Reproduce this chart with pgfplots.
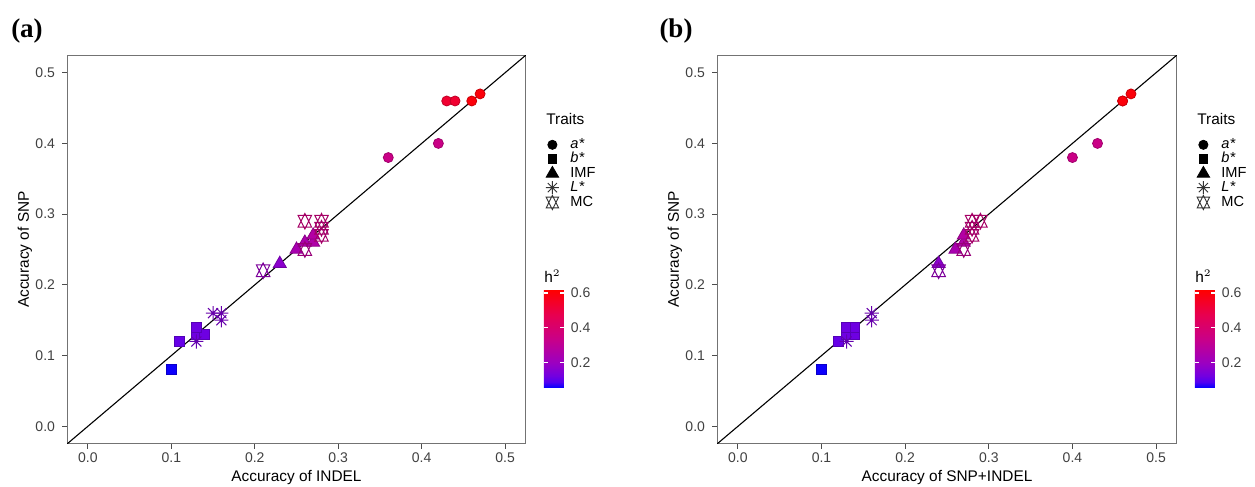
\documentclass[border=0pt]{standalone}
\usepackage{fontspec}
\setmainfont{Liberation Sans}
\newfontfamily\panelfont{Liberation Serif}
\usepackage{pgfplots}
\pgfplotsset{compat=1.18}

% ggplot-like point shapes (unit = mark size)
\pgfdeclareplotmark{ggsq}{%
  \pgfpathrectangle{\pgfqpoint{-0.886\pgfplotmarksize}{-0.886\pgfplotmarksize}}%
    {\pgfqpoint{1.772\pgfplotmarksize}{1.772\pgfplotmarksize}}%
  \pgfusepathqfillstroke}
\pgfdeclareplotmark{ggtri}{%
  \pgfpathmoveto{\pgfqpoint{0pt}{1.555\pgfplotmarksize}}%
  \pgfpathlineto{\pgfqpoint{1.347\pgfplotmarksize}{-0.778\pgfplotmarksize}}%
  \pgfpathlineto{\pgfqpoint{-1.347\pgfplotmarksize}{-0.778\pgfplotmarksize}}%
  \pgfpathclose\pgfusepathqfillstroke}
\pgfdeclareplotmark{ggast}{%
  \pgfpathmoveto{\pgfqpoint{-\pgfplotmarksize}{-\pgfplotmarksize}}%
  \pgfpathlineto{\pgfqpoint{\pgfplotmarksize}{\pgfplotmarksize}}%
  \pgfpathmoveto{\pgfqpoint{-\pgfplotmarksize}{\pgfplotmarksize}}%
  \pgfpathlineto{\pgfqpoint{\pgfplotmarksize}{-\pgfplotmarksize}}%
  \pgfpathmoveto{\pgfqpoint{-1.414\pgfplotmarksize}{0pt}}%
  \pgfpathlineto{\pgfqpoint{1.414\pgfplotmarksize}{0pt}}%
  \pgfpathmoveto{\pgfqpoint{0pt}{-1.414\pgfplotmarksize}}%
  \pgfpathlineto{\pgfqpoint{0pt}{1.414\pgfplotmarksize}}%
  \pgfusepathqstroke}
\pgfdeclareplotmark{ggdavid}{%
  \pgfpathmoveto{\pgfqpoint{0pt}{1.555\pgfplotmarksize}}%
  \pgfpathlineto{\pgfqpoint{1.347\pgfplotmarksize}{-1.166\pgfplotmarksize}}%
  \pgfpathlineto{\pgfqpoint{-1.347\pgfplotmarksize}{-1.166\pgfplotmarksize}}%
  \pgfpathclose
  \pgfpathmoveto{\pgfqpoint{0pt}{-1.555\pgfplotmarksize}}%
  \pgfpathlineto{\pgfqpoint{1.347\pgfplotmarksize}{1.166\pgfplotmarksize}}%
  \pgfpathlineto{\pgfqpoint{-1.347\pgfplotmarksize}{1.166\pgfplotmarksize}}%
  \pgfpathclose
  \pgfusepathqstroke}

\pgfplotsset{
  colormap={h2}{rgb255(0cm)=(0,0,255) rgb255(1cm)=(84,0,240) rgb255(2cm)=(115,0,224)
    rgb255(4cm)=(154,0,195) rgb255(8cm)=(201,0,136) rgb255(12cm)=(232,0,79) rgb255(16cm)=(255,0,0)},
  /pgf/number format/assume math mode=true,
  panel/.style={
    scale only axis, height=194.5pt,
    xmin=-0.025, xmax=0.525, ymin=-0.025, ymax=0.525,
    xtick={0,0.1,0.2,0.3,0.4,0.5}, ytick={0,0.1,0.2,0.3,0.4,0.5},
    tick align=outside, tick pos=left, major tick length=2.5pt,
    tick style={black!70, line width=0.5pt},
    axis line style={black!55, line width=0.5pt},
    ticklabel style={font=\fontsize{7}{8}\selectfont, text=black!75,
      /pgf/number format/fixed, /pgf/number format/fixed zerofill,
      /pgf/number format/precision=1},
    xticklabel style={yshift=1.5pt},
    label style={font=\fontsize{7.7}{9}\selectfont},
    xlabel style={at={(axis description cs:0.5,-0.085)}, anchor=center},
    ylabel style={at={(axis description cs:-0.0915,0.5)}, anchor=center},
    colormap name=h2, point meta min=0.055, point meta max=0.617,
    colorbar,
    colorbar style={at={(1.039,0.396)}, anchor=north west, width=10pt, height=49pt,
      ytick={0.2,0.4,0.6}, yticklabel pos=right, ytick pos=both,
      axis line style={draw=none}, major tick length=2pt, tick align=inside,
      tick style={white, line width=0.6pt},
      yticklabel style={font=\fontsize{7}{8}\selectfont, text=black!75,
        /pgf/number format/fixed, /pgf/number format/fixed zerofill,
        /pgf/number format/precision=1}},
    legend style={at={(1,1)}, anchor=north west, xshift=9pt, yshift=-41.5pt,
      draw=none, fill=none, inner sep=0pt, row sep=0.6pt,
      font=\fontsize{7.3}{8}\selectfont,
      nodes={inner sep=0pt, text height=5.2pt, text depth=1.2pt}},
    legend cell align=left,
    legend image code/.code={\draw[##1] plot coordinates {(0pt,0pt)};
      \path[draw=none, fill=none] (-4pt,-3.2pt) rectangle (9pt,3.2pt);},
  },
  pts/.style={scatter, only marks, scatter src=explicit, forget plot},
  fillpt/.style={pts, line width=0.4pt},
  linept/.style={pts, line width=0.5pt},
}

\pgfplotstableread{
x y h
0.36 0.38 0.34
0.42 0.40 0.34
0.43 0.46 0.53
0.44 0.46 0.53
0.46 0.46 0.60
0.47 0.47 0.60
}\Acirc
\pgfplotstableread{
x y h
0.10 0.08 0.06
0.11 0.12 0.11
0.13 0.13 0.12
0.14 0.13 0.12
0.13 0.14 0.12
}\Asq
\pgfplotstableread{
x y h
0.23 0.23 0.17
0.25 0.25 0.24
0.26 0.26 0.25
0.27 0.26 0.26
0.27 0.27 0.27
}\Atri
\pgfplotstableread{
x y h
0.13 0.12 0.14
0.15 0.16 0.15
0.16 0.16 0.15
0.16 0.15 0.15
}\Aast
\pgfplotstableread{
x y h
0.21 0.22 0.20
0.26 0.25 0.30
0.26 0.29 0.36
0.28 0.29 0.36
0.28 0.28 0.35
0.28 0.27 0.35
}\Amc

\pgfplotstableread{
x y h
0.40 0.38 0.34
0.43 0.40 0.34
0.46 0.46 0.53
0.46 0.46 0.60
0.47 0.47 0.60
}\Bcirc
\pgfplotstableread{
x y h
0.10 0.08 0.06
0.12 0.12 0.11
0.13 0.13 0.12
0.14 0.13 0.12
0.13 0.14 0.12
0.14 0.14 0.12
}\Bsq
\pgfplotstableread{
x y h
0.24 0.23 0.17
0.26 0.25 0.24
0.27 0.26 0.26
0.27 0.27 0.27
}\Btri
\pgfplotstableread{
x y h
0.13 0.12 0.14
0.16 0.16 0.15
0.16 0.15 0.15
}\Bast
\pgfplotstableread{
x y h
0.24 0.22 0.20
0.27 0.25 0.30
0.28 0.29 0.36
0.29 0.29 0.36
0.28 0.28 0.35
0.28 0.27 0.35
}\Bmc

\newcommand\traitlegend{%
  \addlegendimage{mark=*, mark size=2.3pt, mark options={draw=black, fill=black}}
  \addlegendentry{\textit{a*}}
  \addlegendimage{mark=ggsq, mark size=2.4pt, mark options={draw=black, fill=black}}
  \addlegendentry{\textit{b*}}
  \addlegendimage{mark=ggtri, mark size=2.3pt, mark options={draw=black, fill=black}}
  \addlegendentry{IMF}
  \addlegendimage{mark=ggast, mark size=2.3pt, line width=0.45pt, mark options={draw=black!80}}
  \addlegendentry{\textit{L*}}
  \addlegendimage{mark=ggdavid, mark size=2.3pt, line width=0.45pt, mark options={draw=black!80}}
  \addlegendentry{MC}
}

\begin{document}
\begin{tikzpicture}
\path[use as bounding box] (0,0) rectangle (627.5pt,243.5pt);

\begin{axis}[panel, name=A, at={(33.5pt,21.5pt)}, anchor=south west, width=229.5pt,
  xlabel={Accuracy of INDEL}, ylabel={Accuracy of SNP}]
\addplot[fillpt, mark=*, mark size=2.5pt] table[x=x,y=y,meta=h] {\Acirc};
\addplot[fillpt, mark=ggsq, mark size=2.75pt] table[x=x,y=y,meta=h] {\Asq};
\addplot[fillpt, mark=ggtri, mark size=2.4pt] table[x=x,y=y,meta=h] {\Atri};
\addplot[linept, mark=ggast, mark size=2.5pt] table[x=x,y=y,meta=h] {\Aast};
\addplot[linept, mark=ggdavid, mark size=2.5pt] table[x=x,y=y,meta=h] {\Amc};
\addplot[black, line width=0.55pt, forget plot] coordinates {(-0.03,-0.03) (0.53,0.53)};
\traitlegend
\end{axis}

\begin{axis}[panel, name=B, at={(358.5pt,21.5pt)}, anchor=south west, width=230pt,
  xlabel={Accuracy of SNP+INDEL}, ylabel={Accuracy of SNP}]
\addplot[fillpt, mark=*, mark size=2.5pt] table[x=x,y=y,meta=h] {\Bcirc};
\addplot[fillpt, mark=ggsq, mark size=2.75pt] table[x=x,y=y,meta=h] {\Bsq};
\addplot[fillpt, mark=ggtri, mark size=2.4pt] table[x=x,y=y,meta=h] {\Btri};
\addplot[linept, mark=ggast, mark size=2.5pt] table[x=x,y=y,meta=h] {\Bast};
\addplot[linept, mark=ggdavid, mark size=2.5pt] table[x=x,y=y,meta=h] {\Bmc};
\addplot[black, line width=0.55pt, forget plot] coordinates {(-0.03,-0.03) (0.53,0.53)};
\traitlegend
\end{axis}

\foreach \ax in {A,B}{
  \node[anchor=west, font=\fontsize{7.7}{9}\selectfont, inner sep=0pt]
    at ([xshift=10pt,yshift=-32pt]\ax.north east) {Traits};
  \node[anchor=south west, font=\fontsize{7.7}{9}\selectfont, inner sep=0pt]
    at ([xshift=9pt,yshift=-114pt]\ax.north east) {h$^2$};
}
\node[font=\panelfont\bfseries\fontsize{13.5}{14}\selectfont] at (13.5pt,228pt) {(a)};
\node[font=\panelfont\bfseries\fontsize{13.5}{14}\selectfont] at (338pt,228pt) {(b)};
\end{tikzpicture}
\end{document}
